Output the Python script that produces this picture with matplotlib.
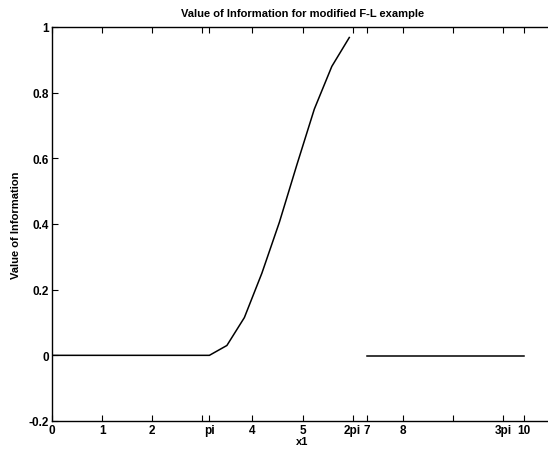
"""Value of information curve for the modified F-L example."""
import numpy as np
import matplotlib
matplotlib.use("Agg")
import matplotlib.pyplot as plt

# curve: flat at zero up to pi, rising in pi/9 steps
rise_x = [0.0, 3.1416, 3.4907, 3.8397, 4.1888, 4.5379, 4.8869, 5.2360, 5.5851, 5.9341]
rise_y = [0.0, 0.0, 0.03, 0.115, 0.25, 0.405, 0.58, 0.75, 0.88, 0.968]
# second piece, from 2pi to 3pi, sits just under zero
flat_x = [6.2832, 9.4248]
flat_y = [-0.003, -0.003]

# tick labels as printed (they drift one tick to the left after 5)
xtick_pos = [0, 1, 2, 3, np.pi, 4, 5, 6, 2 * np.pi, 7, 8, 9, 3 * np.pi]
xtick_lab = ["0", "1", "2", "", "pi", "4", "5", "2pi", "7", "8", "", "3pi", "10"]
ytick_pos = [-0.2, 0, 0.2, 0.4, 0.6, 0.8, 1]
ytick_lab = ["-0.2", "0", "0.2", "0.4", "0.6", "0.8", "1"]

plt.rcParams["font.family"] = ["Liberation Sans", "DejaVu Sans"]
plt.rcParams["font.weight"] = "bold"

fig = plt.figure(figsize=(5.48, 4.52), dpi=100)
# axes run past the right edge of the picture, as in the scan
ax = fig.add_axes([52 / 548, 30 / 452, 501 / 548, 394 / 452])

ax.plot(rise_x, rise_y, color="black", lw=1.1)
ax.plot(flat_x, flat_y, color="black", lw=1.1)

ax.set_xlim(0, 10)
ax.set_ylim(-0.2, 1)
ax.set_xticks(xtick_pos)
ax.set_xticklabels(xtick_lab)
ax.set_yticks(ytick_pos)
ax.set_yticklabels(ytick_lab)
ax.tick_params(direction="in", length=4, width=0.8, labelsize=8.5,
               top=True, right=False, pad=2)
for s in ax.spines.values():
    s.set_linewidth(1.0)

ax.set_title("Value of Information for modified F-L example", fontsize=8,
             fontweight="bold", pad=8)
ax.set_xlabel("x1", fontsize=8, fontweight="bold", labelpad=0)
ax.set_ylabel("Value of Information", fontsize=8, fontweight="bold", labelpad=6)

fig.savefig("out.png", dpi=100)
